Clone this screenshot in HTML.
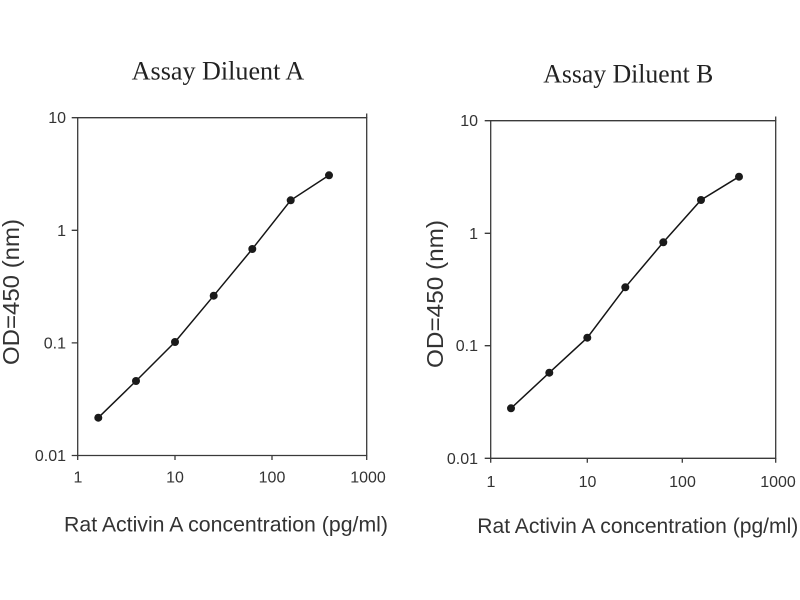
<!DOCTYPE html>
<html>
<head>
<meta charset="utf-8">
<style>
  html, body { margin: 0; padding: 0; background: #fff; }
  svg { display: block; }
  .ser { font-family: "Liberation Serif", "Times New Roman", serif; fill: #222; }
  .san { font-family: "Liberation Sans", Arial, sans-serif; fill: #333; }
</style>
</head>
<body>
<svg width="800" height="600" viewBox="0 0 800 600" xmlns="http://www.w3.org/2000/svg">
  <rect x="0" y="0" width="800" height="600" fill="#fff"/>

  <!-- ========== LEFT CHART ========== -->
  <text class="ser" x="131.7" y="79.5" font-size="26" textLength="172.6" lengthAdjust="spacingAndGlyphs">Assay Diluent A</text>

  <g stroke="#3a3a3a" stroke-width="1.3" fill="none">
    <path d="M77.7 117.7 H366.7 V455.5 H77.7 Z"/>
    <path d="M71.7 117.7 H77.7 M71.7 230.3 H77.7 M71.7 342.9 H77.7 M71.7 455.5 H77.7"/>
    <path d="M77.7 455.5 V460 M175 455.5 V460 M272 455.5 V460 M366.7 455.5 V460"/>
    <path d="M366.7 117.7 V113.5"/>
  </g>

  <g class="san" font-size="16" text-anchor="end">
    <text x="66" y="123.2">10</text>
    <text x="66" y="235.8">1</text>
    <text x="66" y="348.4">0.1</text>
    <text x="66" y="461">0.01</text>
  </g>
  <g class="san" font-size="16" text-anchor="middle">
    <text x="78" y="482.5">1</text>
    <text x="175" y="482.5">10</text>
    <text x="272" y="482.5">100</text>
    <text x="368" y="482.5">1000</text>
  </g>

  <text class="san" x="64" y="531.7" font-size="21" textLength="324" lengthAdjust="spacingAndGlyphs">Rat Activin A concentration (pg/ml)</text>
  <text class="san" transform="translate(19,365) rotate(-90)" x="0" y="0" font-size="23.5" textLength="146" lengthAdjust="spacingAndGlyphs">OD=450 (nm)</text>

  <polyline fill="none" stroke="#151515" stroke-width="1.5" points="98.3,417.7 136,381 175,342 213.7,295.7 252.3,249 290.7,200.3 329,175.3"/>
  <g fill="#1a1a1a">
    <circle cx="98.3" cy="417.7" r="4"/>
    <circle cx="136" cy="381" r="4"/>
    <circle cx="175" cy="342" r="4"/>
    <circle cx="213.7" cy="295.7" r="4"/>
    <circle cx="252.3" cy="249" r="4"/>
    <circle cx="290.7" cy="200.3" r="4"/>
    <circle cx="329" cy="175.3" r="4"/>
  </g>

  <!-- ========== RIGHT CHART ========== -->
  <text class="ser" x="543.3" y="82.7" font-size="26" textLength="170" lengthAdjust="spacingAndGlyphs">Assay Diluent B</text>

  <g stroke="#3a3a3a" stroke-width="1.3" fill="none">
    <path d="M490.7 120.7 H775.7 V458.3 H490.7 Z"/>
    <path d="M484.7 120.7 H490.7 M484.7 233.3 H490.7 M484.7 345.7 H490.7 M484.7 458.3 H490.7"/>
    <path d="M490.7 458.3 V462.8 M587.3 458.3 V462.8 M682.3 458.3 V462.8 M775.7 458.3 V462.8"/>
    <path d="M775.7 120.7 V116.5"/>
  </g>

  <g class="san" font-size="16" text-anchor="end">
    <text x="478" y="126.2">10</text>
    <text x="478" y="238.8">1</text>
    <text x="478" y="351.2">0.1</text>
    <text x="478" y="463.8">0.01</text>
  </g>
  <g class="san" font-size="16" text-anchor="middle">
    <text x="491" y="487">1</text>
    <text x="587.5" y="487">10</text>
    <text x="682.5" y="487">100</text>
    <text x="778" y="487">1000</text>
  </g>

  <text class="san" x="477.3" y="533" font-size="21" textLength="321" lengthAdjust="spacingAndGlyphs">Rat Activin A concentration (pg/ml)</text>
  <text class="san" transform="translate(443,368) rotate(-90)" x="0" y="0" font-size="23.5" textLength="148" lengthAdjust="spacingAndGlyphs">OD=450 (nm)</text>

  <polyline fill="none" stroke="#151515" stroke-width="1.5" points="511,408.3 549.3,372.7 587.3,337.7 625.3,287.3 663.3,242.3 701,200 739,176.7"/>
  <g fill="#1a1a1a">
    <circle cx="511" cy="408.3" r="4"/>
    <circle cx="549.3" cy="372.7" r="4"/>
    <circle cx="587.3" cy="337.7" r="4"/>
    <circle cx="625.3" cy="287.3" r="4"/>
    <circle cx="663.3" cy="242.3" r="4"/>
    <circle cx="701" cy="200" r="4"/>
    <circle cx="739" cy="176.7" r="4"/>
  </g>
</svg>
</body>
</html>
